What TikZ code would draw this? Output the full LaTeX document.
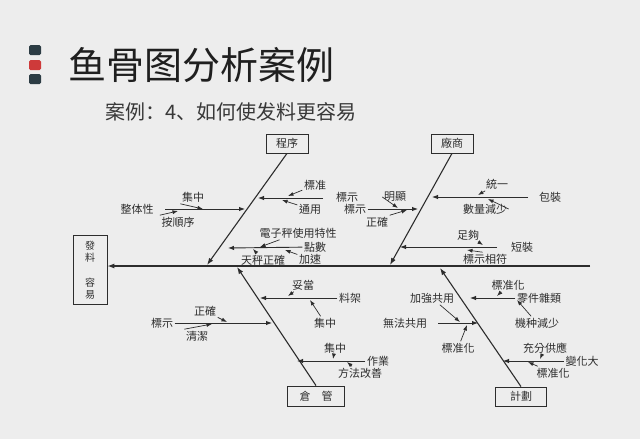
\documentclass[tikz,border=0pt]{standalone}
\usepackage{fontspec}
\usepackage{tikz}
\usetikzlibrary{arrows.meta, positioning, calc}
\newfontfamily\tcfont{Noto Sans CJK TC}
\newfontfamily\scfont{Noto Sans CJK SC}
\definecolor{paper}{RGB}{237,237,237}
\definecolor{ink}{RGB}{45,45,45}
\definecolor{slate}{RGB}{44,60,68}
\definecolor{redmark}{RGB}{206,58,58}

\begin{document}
\begin{tikzpicture}[x=1pt, y=-1pt, font=\tcfont\fontsize{11}{12}\selectfont, text=ink,
  box/.style={draw=ink, line width=0.8pt, inner sep=0pt, minimum height=19pt},
  lb/.style={inner sep=1.5pt},
  bone/.style={draw=ink, line width=1.1pt, -{Latex[length=7pt,width=5pt]}},
  rib/.style={draw=ink, line width=0.9pt, -{Latex[length=6pt,width=4.5pt]}},
  tick/.style={draw=ink, line width=0.7pt, -{Latex[length=5.5pt,width=4pt]}}]
\fill[paper] (0,0) rectangle (640,439);
\useasboundingbox (0,0) rectangle (640,439);

\fill[slate, rounded corners=1.5pt] (29,45) rectangle (41,55);
\fill[redmark, rounded corners=1.5pt] (29,60) rectangle (41,70);
\fill[slate, rounded corners=1.5pt] (29,74) rectangle (41,84);
\node[font=\scfont\fontsize{38}{40}\selectfont, text=black!88] (title) at (201,65) {鱼骨图分析案例};
\node[font=\scfont\fontsize{20}{22}\selectfont, text=black!78] (subtitle) at (231,112) {案例：4、如何使发料更容易};

\node[box, minimum width=34pt, minimum height=69pt, align=center,
      font=\tcfont\fontsize{10}{12.5}\selectfont] (head) at (90,270) {發\\料\\[12pt]容\\易};
\node[box, minimum width=42pt] (prog) at (287,143.5) {程序};
\node[box, minimum width=42pt] (vend) at (452,143.5) {廠商};
\node[box, minimum width=57pt, minimum height=20pt] (stock) at (316,396) {倉\quad 管};
\node[box, minimum width=51pt] (plan) at (521,396.5) {計劃};

\coordinate (tail) at (590,266);
\coordinate (jp) at (207,265);
\coordinate (jv) at (390,265);
\coordinate (js) at (237,267);
\coordinate (jl) at (440,268);
\draw[bone] (tail) -- (tail -| head.east);
\draw[bone] (prog.south) -- (jp);
\draw[bone] (vend.south) -- (jv);
\draw[bone] (stock.north) -- (js);
\draw[bone] (plan.north) -- (jl);

% 程序
\node[lb] (p1) at (347,197) {標示};
\coordinate (p1e) at (323,198); \coordinate (p1t) at (258,198);
\node[lb] (p1a) at (315,185) {標准};
\node[lb] (p1b) at (310,209) {通用};
\coordinate (p1at) at (288,196); \coordinate (p1bt) at (282,200);
\draw[rib] (p1e) -- (p1t);
\draw[tick] (p1a) -- (p1at); \draw[tick] (p1b) -- (p1bt);

\node[lb] (p2) at (137,209) {整体性};
\coordinate (p2e) at (165,209); \coordinate (p2t) at (245,209);
\node[lb] (p2a) at (193,197) {集中};
\node[lb] (p2b) at (178,222) {按順序};
\coordinate (p2at) at (203,209); \coordinate (p2bt) at (178,211);
\draw[rib] (p2e) -- (p2t);
\draw[tick] (p2a.south west) -- (p2at); \draw[tick] (p2b.north west) -- (p2bt);

\node[lb] (p3) at (315,247) {點數};
\coordinate (p3t) at (228,248);
\node[lb] (p3a) at (298,233) {電子秤使用特性};
\node[lb] (p3b) at (263,260) {天秤正確};
\node[lb] (p3c) at (310,259) {加速};
\coordinate (p3at) at (260,247); \coordinate (p3bt) at (253,249); \coordinate (p3ct) at (285,250);
\draw[rib] (p3) -- (p3t);
\draw[tick] (p3a) -- (p3at); \draw[tick] (p3b) -- (p3bt); \draw[tick] (p3c) -- (p3ct);

% 廠商
\node[lb] (v1) at (550,197) {包裝};
\coordinate (v1e) at (528,197); \coordinate (v1t) at (432,197);
\node[lb] (v1a) at (497,184) {統一};
\node[lb] (v1b) at (485,209) {數量減少};
\coordinate (v1at) at (478,195); \coordinate (v1bt) at (488,199);
\draw[rib] (v1e) -- (v1t);
\draw[tick] (v1a) -- (v1at); \draw[tick] (v1b.east) -- (v1bt);

\node[lb] (v2) at (355,209) {標示};
\coordinate (v2t) at (418,209);
\node[lb] (v2a) at (395,197) {明顯};
\node[lb] (v2b) at (377,222) {正確};
\coordinate (v2at) at (398,208); \coordinate (v2bt) at (407,210);
\draw[rib] (v2) -- (v2t);
\draw[tick] (v2a.west) -- (v2at); \draw[tick] (v2b.north east) -- (v2bt);

\node[lb] (v3) at (522,247) {短裝};
\coordinate (v3e) at (497,247); \coordinate (v3t) at (400,247);
\node[lb] (v3a) at (468,235) {足夠};
\node[lb] (v3b) at (485,259) {標示相符};
\coordinate (v3at) at (483,245); \coordinate (v3bt) at (467,250);
\draw[rib] (v3e) -- (v3t);
\draw[tick] (v3a) -- (v3at); \draw[tick] (v3b.110) -- (v3bt);

% 倉管
\node[lb] (s1) at (350,298) {料架};
\coordinate (s1t) at (260,298);
\node[lb] (s1a) at (303,285) {妥當};
\node[lb] (s1b) at (325,323) {集中};
\coordinate (s1at) at (288,296); \coordinate (s1bt) at (310,300);
\draw[rib] (s1) -- (s1t);
\draw[tick] (s1a) -- (s1at); \draw[tick] (s1b) -- (s1bt);

\node[lb] (s2) at (162,323) {標示};
\coordinate (s2t) at (272,323);
\node[lb] (s2a) at (205,311) {正確};
\node[lb] (s2b) at (197,336) {清潔};
\coordinate (s2at) at (227,322); \coordinate (s2bt) at (212,324);
\draw[rib] (s2) -- (s2t);
\draw[tick] (s2a) -- (s2at); \draw[tick] (s2b.north west) -- (s2bt);

\node[lb] (s3) at (378,361) {作業};
\coordinate (s3t) at (297,361);
\node[lb] (s3a) at (335,348) {集中};
\node[lb] (s3b) at (360,373) {方法改善};
\coordinate (s3at) at (333,359); \coordinate (s3bt) at (347,362);
\draw[rib] (s3) -- (s3t);
\draw[tick] (s3a) -- (s3at); \draw[tick] (s3b) -- (s3bt);

% 計劃
\node[lb] (l1) at (539,298) {零件雜類};
\coordinate (l1t) at (470,298);
\node[lb] (l1a) at (508,285) {標准化};
\node[lb] (l1b) at (537,323) {機种減少};
\coordinate (l1at) at (497,296); \coordinate (l1bt) at (517,300);
\draw[rib] (l1) -- (l1t);
\draw[tick] (l1a) -- (l1at); \draw[tick] (l1b) -- (l1bt);

\node[lb] (l2) at (405,323) {無法共用};
\coordinate (l2e) at (438,323); \coordinate (l2t) at (478,323);
\node[lb] (l2a) at (432,298) {加強共用};
\node[lb] (l2b) at (458,348) {標准化};
\coordinate (l2at) at (460,322); \coordinate (l2bt) at (467,325);
\draw[rib] (l2e) -- (l2t);
\draw[tick] (l2a) -- (l2at); \draw[tick] (l2b) -- (l2bt);

\node[lb] (l3) at (582,361) {變化大};
\coordinate (l3t) at (503,361);
\node[lb] (l3a) at (545,348) {充分供應};
\node[lb] (l3b) at (553,373) {標准化};
\coordinate (l3at) at (540,359); \coordinate (l3bt) at (528,362);
\draw[rib] (l3) -- (l3t);
\draw[tick] (l3a) -- (l3at); \draw[tick] (l3b) -- (l3bt);
\end{tikzpicture}
\end{document}
